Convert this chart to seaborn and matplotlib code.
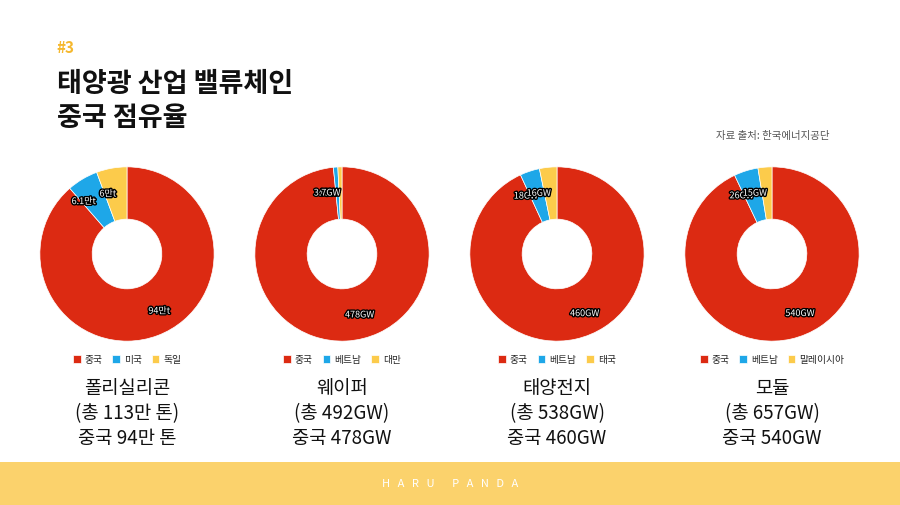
import matplotlib.pyplot as plt
import matplotlib.patheffects as pe
import seaborn as sns

sns.set_theme(style="white")
plt.rcParams['font.family'] = ['Noto Sans CJK KR', 'DejaVu Sans']

categories = [
    ['중국', '미국', '독일'],
    ['중국', '베트남', '대만'],
    ['중국', '베트남', '태국'],
    ['중국', '베트남', '말레이시아'],
]
values = [
    [94, 6.1, 6],
    [478, 4, 3.7],
    [460, 18, 16],
    [540, 26, 15],
]
units = ['만t', 'GW', 'GW', 'GW']
captions = [
    '폴리실리콘\n(총 113만 톤)\n중국 94만 톤',
    '웨이퍼\n(총 492GW)\n중국 478GW',
    '태양전지\n(총 538GW)\n중국 460GW',
    '모듈\n(총 657GW)\n중국 540GW',
]
colors = ['#DC2A12', '#1EA7E8', '#FCCB4B']

fig = plt.figure(figsize=(9, 5.06), dpi=100)
fig.patch.set_facecolor('white')

fig.text(0.063, 0.895, '#3', color='#F5B82E', fontsize=11, fontweight='bold')
fig.text(0.063, 0.75, '태양광 산업 밸류체인\n중국 점유율', color='#111111',
         fontsize=19.5, fontweight='bold', linespacing=1.3)
fig.text(0.922, 0.725, '자료 출처: 한국에너지공단', color='#555555', fontsize=7.5, ha='right')

centers = [127, 342, 557, 772]
stroke = [pe.withStroke(linewidth=2, foreground='black')]
for i in range(4):
    ax = fig.add_axes([(centers[i] - 88) / 900, (506 - 343) / 506, 176 / 900, 176 / 506])
    vals = values[i]
    wedges, texts = ax.pie(vals, colors=colors, startangle=90, counterclock=False,
                           wedgeprops=dict(width=0.6, edgecolor='white', linewidth=0.5),
                           labels=[f'{v:g}{units[i]}' for v in vals], labeldistance=0.7,
                           textprops=dict(color='white', fontsize=6.5))
    for t in texts:
        t.set_path_effects(stroke)
    ax.set_xlim(-1.01, 1.01)
    ax.set_ylim(-1.01, 1.01)
    ax.set_aspect('equal')
    ax.legend(wedges, categories[i], loc='upper center', bbox_to_anchor=(0.5, -0.02),
              ncol=3, frameon=False, fontsize=7, handlelength=0.8, handleheight=0.8,
              columnspacing=1.0, handletextpad=0.4)
    fig.text(centers[i] / 900, (506 - 378) / 506, captions[i], ha='center', va='top',
             fontsize=13.5, color='#111111', linespacing=1.25)

band = fig.add_axes([0, 0, 1, 43 / 506])
band.set_facecolor('#FBD26C')
band.set_xticks([])
band.set_yticks([])
for s in band.spines.values():
    s.set_visible(False)
band.text(0.5, 0.5, '   '.join('HARU PANDA'), color='white', fontsize=8,
          ha='center', va='center', transform=band.transAxes)

fig.savefig('out.png', dpi=100, facecolor='white')
